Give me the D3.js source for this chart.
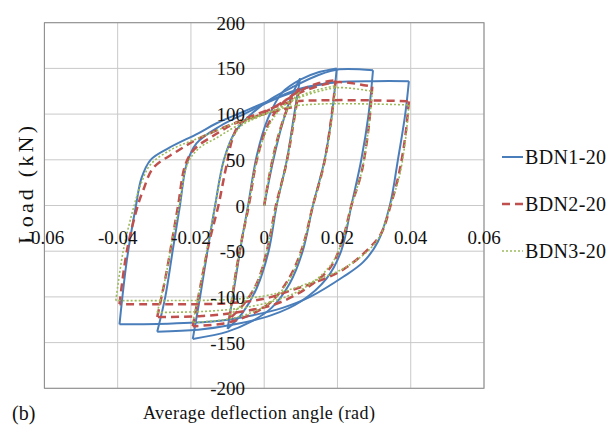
<!DOCTYPE html>
<html>
<head>
<meta charset="utf-8">
<script src="https://cdn.jsdelivr.net/npm/d3@7"></script>
<style>
  body { margin: 0; background: #fff; }
</style>
</head>
<body>
<div id="chart"></div>
<script>
// tick labels
const xTicks = [-0.06, -0.04, -0.02, 0, 0.02, 0.04, 0.06];
const yTicks = [-200, -150, -100, -50, 0, 50, 100, 150, 200];
const seriesNames = ["BDN1-20", "BDN2-20", "BDN3-20"];

// each series is a list of branches (loading / unloading), points [angle, load]
const bdn1 = [
  [[0,0],[0.0025,50],[0.005,90],[0.0075,120],[0.0098,139]],
  [[0.0098,139],[0.0082,100],[0.0062,50],[0.0034,0],[0.0012,-50],[-0.002,-90],[-0.006,-118],[-0.01,-135]],
  [[-0.01,-135],[-0.0078,-80],[-0.0062,-40],[-0.0044,0],[-0.002,55],[0.001,95],[0.005,124],[0.01,138],[0.015,146],[0.0198,150]],
  [[0.0198,150],[0.0185,100],[0.0165,50],[0.0133,0],[0.0105,-50],[0.007,-85],[0.002,-112],[-0.004,-128],[-0.01,-138],[-0.0195,-146]],
  [[-0.0195,-146],[-0.0175,-100],[-0.0155,-50],[-0.0134,0],[-0.011,50],[-0.008,80],[-0.003,102],[0.002,117],[0.008,130],[0.015,143],[0.0205,149],[0.0297,148]],
  [[0.0297,148],[0.0285,100],[0.0265,50],[0.0238,0],[0.021,-50],[0.017,-80],[0.01,-105],[0.002,-120],[-0.008,-130],[-0.018,-136],[-0.0292,-138]],
  [[-0.0292,-138],[-0.027,-100],[-0.025,-50],[-0.023,0],[-0.0212,45],[-0.0185,68],[-0.012,87],[-0.005,101],[0.001,113],[0.008,124],[0.015,132],[0.02,135],[0.03,136],[0.0395,136]],
  [[0.0395,136],[0.0385,100],[0.0365,50],[0.0343,0],[0.031,-40],[0.027,-62],[0.0216,-78],[0.0125,-100],[0.005,-112],[-0.003,-120],[-0.012,-126],[-0.025,-129],[-0.0395,-130]],
  [[-0.0395,-130],[-0.0375,-60],[-0.035,0],[-0.0335,30],[-0.031,50],[-0.026,63],[-0.018,79],[-0.013,90],[-0.006,102],[0.0016,115],[0.01,128],[0.02,135]]
];

const bdn2 = [
  [[0,0],[0.002,45],[0.0045,85],[0.007,112],[0.0095,128]],
  [[0.0095,128],[0.008,90],[0.006,45],[0.0032,0],[0.001,-45],[-0.002,-85],[-0.006,-110],[-0.0095,-124]],
  [[-0.0095,-124],[-0.0078,-75],[-0.006,-35],[-0.0042,0],[-0.002,50],[0.001,88],[0.005,112],[0.01,126],[0.015,134],[0.0195,137]],
  [[0.0195,137],[0.0183,95],[0.0163,45],[0.0133,0],[0.0105,-45],[0.007,-78],[0.002,-105],[-0.004,-120],[-0.011,-129],[-0.0195,-132]],
  [[-0.0195,-132],[-0.0175,-90],[-0.015,-40],[-0.0125,0],[-0.0105,40],[-0.0085,75],[-0.0065,90],[-0.003,96],[0.002,106],[0.008,120],[0.015,131],[0.0205,135],[0.0295,130]],
  [[0.0295,130],[0.0285,85],[0.0265,35],[0.0238,0],[0.0212,-40],[0.018,-68],[0.011,-92],[0.003,-108],[-0.006,-116],[-0.017,-121],[-0.0292,-122]],
  [[-0.0292,-122],[-0.027,-80],[-0.025,-35],[-0.0235,0],[-0.0215,45],[-0.019,62],[-0.014,76],[-0.008,90],[0,103],[0.007,113],[0.015,115],[0.03,115],[0.0395,114]],
  [[0.0395,114],[0.0385,75],[0.0368,35],[0.0345,0],[0.032,-30],[0.0288,-46],[0.0216,-70],[0.014,-84],[0.008,-92],[0,-102],[-0.01,-107],[-0.025,-108],[-0.0395,-108]],
  [[-0.0395,-108],[-0.0375,-50],[-0.0345,0],[-0.033,17],[-0.0303,41],[-0.0239,59],[-0.0194,70],[-0.0148,79],[-0.008,90],[0,100],[0.008,108]]
];

const bdn3 = [
  [[0,0],[0.002,45],[0.0045,85],[0.007,110],[0.0095,124]],
  [[0.0095,124],[0.008,90],[0.006,45],[0.0033,0],[0.001,-45],[-0.002,-85],[-0.006,-108],[-0.0095,-120]],
  [[-0.0095,-120],[-0.0078,-75],[-0.006,-35],[-0.0043,0],[-0.002,50],[0.001,85],[0.005,108],[0.01,120],[0.015,127],[0.0195,131]],
  [[0.0195,131],[0.0183,90],[0.0163,45],[0.0133,0],[0.0105,-45],[0.007,-80],[0.002,-105],[-0.004,-118],[-0.011,-125],[-0.0195,-128]],
  [[-0.0195,-128],[-0.0175,-90],[-0.0155,-45],[-0.0134,0],[-0.0112,45],[-0.009,72],[-0.006,88],[-0.002,96],[0.003,105],[0.009,117],[0.015,125],[0.0205,129],[0.0295,125]],
  [[0.0295,125],[0.0285,85],[0.0265,35],[0.0238,0],[0.0212,-40],[0.018,-66],[0.011,-90],[0.003,-104],[-0.006,-112],[-0.017,-116],[-0.0292,-117]],
  [[-0.0292,-117],[-0.027,-80],[-0.025,-35],[-0.0232,0],[-0.021,45],[-0.018,62],[-0.013,74],[-0.007,88],[0,100],[0.007,108],[0.015,111],[0.03,111],[0.0395,110]],
  [[0.0395,110],[0.0385,70],[0.0368,30],[0.0344,0],[0.032,-30],[0.029,-47],[0.022,-68],[0.014,-82],[0.007,-92],[0,-99],[-0.01,-103],[-0.025,-104],[-0.0405,-104]],
  [[-0.0405,-104],[-0.0385,-50],[-0.0355,0],[-0.0335,25],[-0.031,45],[-0.025,62],[-0.019,72],[-0.013,82],[-0.006,93],[0,100]]
];

const width = 610, height = 425;
const serif = "'Liberation Serif', 'Times New Roman', 'DejaVu Serif', serif";

const svg = d3.select("#chart").append("svg")
  .attr("width", width)
  .attr("height", height)
  .attr("font-family", serif);

const x = d3.scaleLinear().domain([-0.06, 0.06]).range([44.4, 484]);
const y = d3.scaleLinear().domain([-200, 200]).range([388.3, 22.7]);

// grid
svg.append("g").selectAll("line")
  .data(xTicks)
  .join("line")
  .attr("x1", d => x(d)).attr("x2", d => x(d))
  .attr("y1", y(200)).attr("y2", y(-200))
  .attr("stroke", "#c9c9c9").attr("stroke-width", 1);

svg.append("g").selectAll("line")
  .data(yTicks)
  .join("line")
  .attr("x1", x(-0.06)).attr("x2", x(0.06))
  .attr("y1", d => y(d)).attr("y2", d => y(d))
  .attr("stroke", "#c9c9c9").attr("stroke-width", 1);

svg.append("rect")
  .attr("x", x(-0.06)).attr("y", y(200))
  .attr("width", x(0.06) - x(-0.06))
  .attr("height", y(-200) - y(200))
  .attr("fill", "none")
  .attr("stroke", "#8c8c8c").attr("stroke-width", 1);

// series
const styles = [
  { data: bdn1, color: "#4a7ebb", width: 2, dash: null },
  { data: bdn2, color: "#c0504d", width: 2.5, dash: "8,5" },
  { data: bdn3, color: "#9bbb59", width: 1.6, dash: "2,2" }
];

const line = d3.line()
  .x(d => x(d[0]))
  .y(d => y(d[1]))
  .curve(d3.curveCatmullRom.alpha(0.5));

styles.forEach(s => {
  svg.append("g").selectAll("path")
    .data(s.data)
    .join("path")
    .attr("d", line)
    .attr("fill", "none")
    .attr("stroke", s.color)
    .attr("stroke-width", s.width)
    .attr("stroke-dasharray", s.dash);
});

// tick labels (axes cross at origin)
svg.append("g").selectAll("text")
  .data(yTicks)
  .join("text")
  .attr("x", 245)
  .attr("y", d => y(d) + 7)
  .attr("text-anchor", "end")
  .attr("font-size", 19)
  .attr("fill", "#111")
  .text(d => d);

svg.append("g").selectAll("text")
  .data(xTicks)
  .join("text")
  .attr("x", d => x(d))
  .attr("y", y(0) + 38)
  .attr("text-anchor", "middle")
  .attr("font-size", 19)
  .attr("fill", "#111")
  .text(d => d === 0 ? "0" : d3.format(".2f")(d).replace("−", "-"));

// axis titles
svg.append("text")
  .attr("transform", "translate(33,185) rotate(-90)")
  .attr("text-anchor", "middle")
  .attr("font-size", 22)
  .attr("textLength", 118)
  .attr("fill", "#111")
  .text("Load (kN)");

svg.append("text")
  .attr("x", 143)
  .attr("y", 419)
  .attr("font-size", 18)
  .attr("textLength", 232)
  .attr("fill", "#111")
  .text("Average deflection angle (rad)");

svg.append("text")
  .attr("x", 12)
  .attr("y", 420)
  .attr("font-size", 20)
  .attr("fill", "#111")
  .text("(b)");

// legend
const legend = svg.append("g").selectAll("g")
  .data(styles)
  .join("g")
  .attr("transform", (d, i) => `translate(502,${157 + i * 47})`);

legend.append("line")
  .attr("x1", 0).attr("x2", 21)
  .attr("stroke", d => d.color)
  .attr("stroke-width", d => d.width)
  .attr("stroke-dasharray", d => d.dash);

legend.append("text")
  .attr("x", 23)
  .attr("y", 7)
  .attr("font-size", 20)
  .attr("textLength", 81)
  .attr("fill", "#111")
  .text((d, i) => seriesNames[i]);
</script>
</body>
</html>
